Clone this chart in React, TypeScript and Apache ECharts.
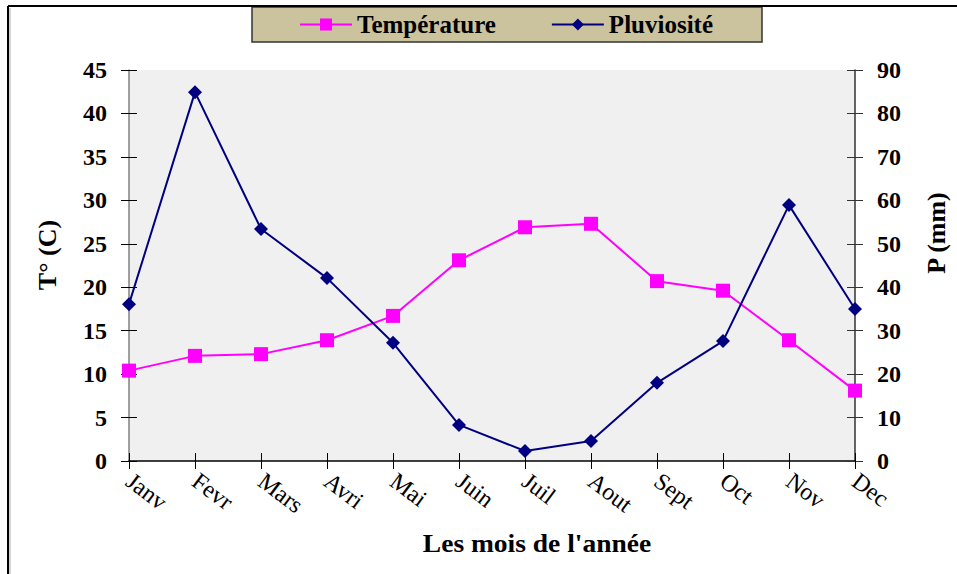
import React, { useEffect, useRef } from "react";
import * as echarts from "echarts";

const months = ["Janv", "Fevr", "Mars", "Avri", "Mai", "Juin", "Juil", "Aout", "Sept", "Oct", "Nov", "Dec"];
const temperature = [10.4, 12.1, 12.3, 13.9, 16.7, 23.1, 26.9, 27.3, 20.7, 19.6, 13.9, 8.1];
const pluviosite = [36.1, 84.9, 53.4, 42.1, 27.2, 8.3, 2.3, 4.6, 18.0, 27.6, 58.9, 35.0];
const seriesNames = ["Température", "Pluviosité"];
const xTitle = "Les mois de l'année";
const leftTitle = "T° (C)";
const rightTitle = "P (mm)";

const FONT = "'Liberation Serif', 'Times New Roman', serif";

export default function App() {
  const ref = useRef<HTMLDivElement>(null);
  useEffect(() => {
    if (!ref.current) return;
    const chart = echarts.init(ref.current, undefined, { renderer: "svg" });
    const tickLabel = { fontFamily: FONT, fontWeight: "bold" as const, fontSize: 24, color: "#000" };
    chart.setOption({
      animation: false,
      backgroundColor: "#fff",
      grid: {
        left: 129,
        right: 102,
        top: 70,
        bottom: 113,
        show: true,
        backgroundColor: "#f0f0f0",
        borderWidth: 0,
      },
      legend: {
        left: 299,
        top: 12,
        itemWidth: 52,
        itemHeight: 15,
        itemGap: 55,
        padding: 0,
        textStyle: { fontFamily: FONT, fontWeight: "bold", fontSize: 25, color: "#000" },
        data: seriesNames,
      },
      xAxis: [
        {
          type: "category",
          data: months,
          boundaryGap: false,
          axisLine: { lineStyle: { color: "#000", width: 1.5 } },
          axisTick: { length: 8, lineStyle: { color: "#000" } },
          axisLabel: { fontFamily: FONT, fontSize: 24, color: "#000", rotate: -37, margin: 17, interval: 0 },
        },
        {
          type: "category",
          data: months,
          boundaryGap: false,
          position: "bottom",
          axisLine: { show: false },
          axisTick: { inside: true, length: 8, lineStyle: { color: "#000" } },
          axisLabel: { show: false },
        },
      ],
      yAxis: [
        {
          type: "value",
          position: "left",
          min: 0,
          max: 45,
          interval: 5,
          splitLine: { show: false },
          axisLine: { show: true, lineStyle: { color: "#808080", width: 1.5 } },
          axisTick: { show: true, length: 8, lineStyle: { color: "#000" } },
          axisLabel: { ...tickLabel, margin: 22 },
        },
        {
          type: "value",
          position: "right",
          min: 0,
          max: 90,
          interval: 10,
          splitLine: { show: false },
          axisLine: { show: true, lineStyle: { color: "#333", width: 1.5 } },
          axisTick: { show: true, length: 8, lineStyle: { color: "#333" } },
          axisLabel: { ...tickLabel, margin: 22 },
        },
        {
          type: "value",
          position: "left",
          min: 0,
          max: 45,
          interval: 5,
          splitLine: { show: false },
          axisLine: { show: false },
          axisTick: { show: true, inside: true, length: 8, lineStyle: { color: "#000" } },
          axisLabel: { show: false },
        },
        {
          type: "value",
          position: "right",
          min: 0,
          max: 90,
          interval: 10,
          splitLine: { show: false },
          axisLine: { show: false },
          axisTick: { show: true, inside: true, length: 8, lineStyle: { color: "#333" } },
          axisLabel: { show: false },
        },
      ],
      graphic: [
        { type: "line", shape: { x1: 8, y1: 6, x2: 957, y2: 6 }, style: { stroke: "#000", lineWidth: 2 } },
        { type: "line", shape: { x1: 8, y1: 6, x2: 8, y2: 574 }, style: { stroke: "#000", lineWidth: 2 } },
        { type: "line", shape: { x1: 10, y1: 8, x2: 10, y2: 574 }, style: { stroke: "#aaa", lineWidth: 1 } },
        {
          type: "rect",
          z: -1,
          shape: { x: 252, y: 7, width: 510, height: 35 },
          style: { fill: "#cbc29e", stroke: "#333", lineWidth: 1.5 },
        },
        {
          type: "text",
          x: 537,
          y: 544,
          scaleX: 1.1,
          style: { text: xTitle, font: `bold 25px ${FONT}`, fill: "#000", textAlign: "center", textVerticalAlign: "middle" },
        },
        {
          type: "text",
          x: 47,
          y: 255,
          rotation: Math.PI / 2,
          style: { text: leftTitle, font: `bold 26px ${FONT}`, fill: "#000", textAlign: "center", textVerticalAlign: "middle" },
        },
        {
          type: "text",
          x: 936,
          y: 233,
          rotation: Math.PI / 2,
          style: { text: rightTitle, font: `bold 26px ${FONT}`, fill: "#000", textAlign: "center", textVerticalAlign: "middle" },
        },
      ],
      series: [
        {
          name: seriesNames[0],
          type: "line",
          data: temperature,
          yAxisIndex: 0,
          symbol: "rect",
          symbolSize: 14,
          lineStyle: { color: "#ff00ff", width: 2 },
          itemStyle: { color: "#ff00ff" },
          z: 3,
        },
        {
          name: seriesNames[1],
          type: "line",
          data: pluviosite,
          yAxisIndex: 1,
          symbol: "diamond",
          symbolSize: 14,
          lineStyle: { color: "#000080", width: 2 },
          itemStyle: { color: "#000080" },
          z: 4,
        },
      ],
    });
    return () => chart.dispose();
  }, []);
  return <div ref={ref} style={{ width: 957, height: 574, position: "fixed", left: 0, top: 0 }} />;
}
